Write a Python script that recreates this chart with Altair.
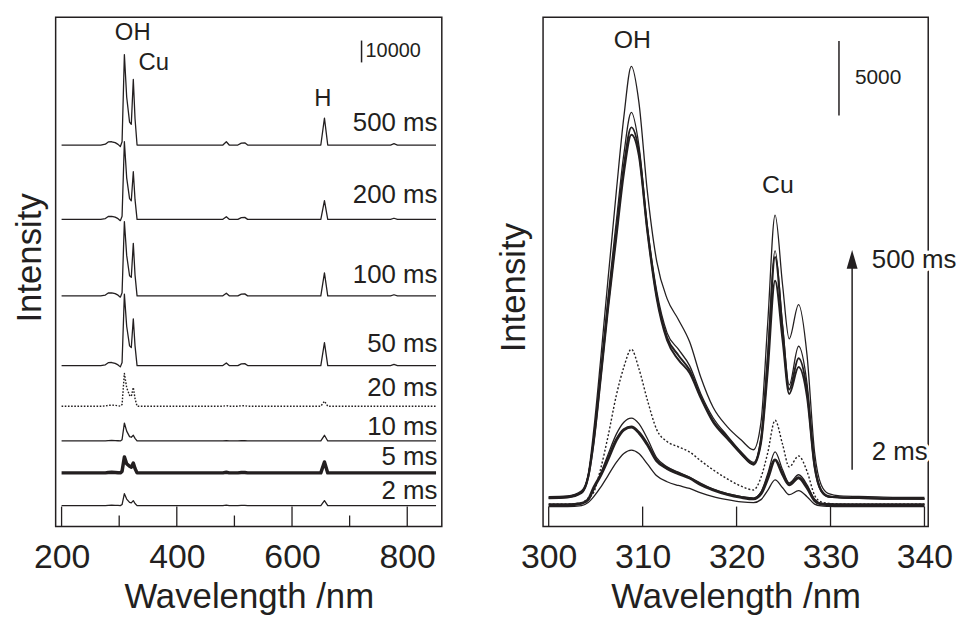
import altair as alt
import pandas as pd

FONT = "Liberation Sans"
INK = "#231f20"

# ---------------- left panel: stacked survey spectra ----------------
L_TRACES = ["500 ms", "200 ms", "100 ms", "50 ms", "20 ms", "10 ms", "5 ms", "2 ms"]
L_OFFSETS = [174500, 140500, 105500, 73600, 55000, 39100, 24500, 9500]
L_WL = [200, 268, 276, 281, 287, 293, 298, 302, 305, 309, 313, 318, 321, 324.5, 327.5, 331,
        480, 486, 491, 506, 512, 518, 523, 650, 656.3, 662, 771, 777, 783, 850]
L_500 = [0, 0, 400, 1400, 1500, 1100, 300, -700, 1500, 41400, 22000, 10500, 9500, 30000, 12000, 0,
         0, 1500, 0, 0, 900, 1000, 0, 0, 12300, 0, 0, 600, 0, 0]
L_200 = [0, 0, 350, 1300, 1400, 1000, 300, -600, 1400, 35500, 19000, 9500, 8500, 21800, 9000, 0,
         0, 1200, 0, 0, 800, 900, 0, 0, 8600, 0, 0, 500, 0, 0]
L_100 = [0, 0, 350, 1300, 1400, 1000, 300, -600, 1400, 34000, 18500, 9200, 8500, 24000, 9500, 0,
         0, 1200, 0, 0, 800, 900, 0, 0, 10500, 0, 0, 500, 0, 0]
L_50 = [0, 0, 350, 1300, 1400, 1000, 300, -600, 1400, 32700, 18000, 9000, 8200, 21400, 9000, 0,
        0, 1200, 0, 0, 800, 900, 0, 0, 10500, 0, 0, 500, 0, 0]
L_20 = [0, 0, 100, 400, 500, 400, 200, 0, 800, 15000, 8500, 5000, 4500, 8600, 3500, 0,
        0, 300, 0, 0, 200, 200, 0, 0, 2300, 0, 0, 0, 0, 0]
L_10 = [0, 0, 0, 200, 250, 200, 100, 0, 600, 8200, 4500, 2000, 1700, 2600, 1200, 0,
        0, 200, 0, 0, 100, 100, 0, 0, 2600, 0, 0, 0, 0, 0]
L_5 = [0, 0, 0, 200, 250, 200, 100, 0, 700, 7300, 4200, 3000, 2600, 4500, 2000, 0,
       0, 300, 0, 0, 200, 200, 0, 0, 5000, 0, 0, 0, 0, 0]
L_2 = [0, 0, 0, 150, 200, 150, 100, 0, 500, 5500, 3000, 1500, 1300, 2300, 1000, 0,
       0, 200, 0, 0, 100, 100, 0, 0, 2300, 0, 0, 0, 0, 0]
L_VALUES = [L_500, L_200, L_100, L_50, L_20, L_10, L_5, L_2]
L_WIDTH = [1.3, 1.3, 1.3, 1.3, 1.4, 1.3, 3.5, 1.3]
L_DASH = [None, None, None, None, [1.6, 1.6], None, None, None]

L_MAJOR = [200, 400, 600, 800]
L_MINOR = [300, 500, 700]
L_LABEL_Y = [184500, 151400, 115000, 83600, 63200, 45500, 31800, 16400]
L_LABEL_X = 852.5
L_PEAKS = [("OH", 323.5, 225900), ("Cu", 360, 211800), ("H", 653.5, 195500)]
L_BAR = (720.7, 212300, 222300, "10000")

# ---------------- right panel: zoom on OH / Cu ----------------
R_TRACES = ["500 ms", "200 ms", "100 ms", "50 ms", "20 ms", "10 ms", "5 ms", "2 ms"]
R_WL = [300, 302, 303.5, 304.2, 304.8, 305.5, 306.3, 307.2, 308.0, 308.8, 309.6, 310.5, 311.5,
        312.6, 313.8, 315.0, 316.2, 317.5, 319.0, 320.5, 321.8, 322.6, 323.3, 324.1, 324.9,
        325.6, 326.6, 327.5, 328.3, 329.0, 329.8, 331, 334, 337, 340]
R_500 = [2000, 2050, 2400, 3500, 6500, 11000, 16500, 22500, 27500, 30900, 28500, 22500, 17800,
         15300, 13900, 12400, 10000, 8000, 6700, 5800, 5150, 7000, 13500, 20900, 16200,
         12600, 14900, 11500, 5000, 2800, 2200, 2050, 2000, 1950, 1950]
R_200 = [1900, 1950, 2300, 3400, 6000, 10200, 15300, 20500, 25000, 27800, 25600, 20200, 15800,
         13000, 11900, 10800, 8900, 7300, 6100, 5000, 4300, 6000, 11500, 18500, 13500,
         9500, 12100, 9600, 4300, 2500, 2050, 1950, 1900, 1900, 1850]
R_100 = [1900, 1950, 2250, 3300, 5800, 9900, 14800, 19800, 24200, 26800, 25200, 20000, 15500,
         12700, 11500, 10500, 8700, 7100, 6000, 4900, 4200, 5800, 11000, 18100, 13200,
         9200, 11300, 9100, 4100, 2400, 2000, 1950, 1900, 1850, 1850]
R_50 = [1950, 2000, 2300, 3300, 5700, 9700, 14500, 19400, 23700, 26300, 24900, 19800, 15300,
        12500, 11200, 10300, 8600, 7000, 5900, 4850, 4150, 5600, 10300, 16500, 12500,
        8900, 10700, 8700, 4000, 2400, 2000, 1950, 1900, 1850, 1850]
R_20 = [1500, 1500, 1600, 1900, 2300, 3800, 6000, 8800, 10700, 11900, 10600, 8500, 6500,
        5700, 5350, 5000, 4400, 3800, 3200, 2700, 2450, 3300, 4900, 7130, 5500,
        4000, 4730, 3700, 2100, 1650, 1550, 1500, 1500, 1500, 1500]
R_10 = [1450, 1450, 1550, 1800, 2500, 3500, 4800, 6200, 7000, 7270, 6900, 5900, 4600,
        4000, 3650, 3300, 2900, 2500, 2200, 2000, 1900, 2300, 3500, 5000, 3800,
        2930, 3470, 2800, 1800, 1550, 1500, 1480, 1450, 1450, 1450]
R_5 = [1450, 1450, 1550, 1800, 2600, 3400, 4500, 5800, 6500, 6670, 6300, 5500, 4400,
       3900, 3550, 3250, 2800, 2450, 2150, 1950, 1850, 2200, 3200, 4470, 3500,
       2800, 3270, 2600, 1750, 1500, 1470, 1450, 1450, 1450, 1450]
R_2 = [1330, 1330, 1400, 1600, 2000, 2600, 3400, 4300, 4900, 5130, 4900, 4200, 3400,
       3000, 2750, 2550, 2250, 2000, 1800, 1650, 1600, 1800, 2400, 3130, 2600,
       2130, 2400, 2000, 1500, 1380, 1350, 1330, 1330, 1330, 1330]
R_VALUES = [R_500, R_200, R_100, R_50, R_20, R_10, R_5, R_2]
R_WIDTH = [1.3, 1.3, 2.0, 2.0, 1.4, 1.3, 3.0, 1.3]
R_DASH = [None, None, None, None, [2, 2], None, None, None]

R_MAJOR = [300, 310, 320, 330, 340]
R_PEAKS = [("OH", 308.9, 32670), ("Cu", 324.4, 22900)]
R_BAR = (330.9, 27600, 32600, "5000")
R_ARROW = (332.3, 3800, 17400, 17900)
R_ARROW_LABELS = [("500 ms", 334.4, 17900), ("2 ms", 334.4, 5000)]

# ---------------- build tables ----------------
rows = []
for name, off, vals in zip(L_TRACES, L_OFFSETS, L_VALUES):
    for w, v in zip(L_WL, vals):
        rows.append({"wl": w, "y": off + v, "trace": name})
left_df = pd.DataFrame(rows)

rows = []
for name, vals in zip(R_TRACES, R_VALUES):
    for w, v in zip(R_WL, vals):
        rows.append({"wl": w, "y": v, "trace": name})
right_df = pd.DataFrame(rows)

L_W, L_H = 389, 513
R_W, R_H = 388, 513

lx = alt.Scale(domain=[189.7, 860], nice=False, zero=False)
ly = alt.Scale(domain=[0, 233000], nice=False, zero=False)
rx = alt.Scale(domain=[299.4, 340.4], nice=False, zero=False)
ry = alt.Scale(domain=[0, 34200], nice=False, zero=False)


def x_axis(values):
    return alt.Axis(values=values, ticks=False, tickSize=0, domain=False, grid=False,
                    labelFontSize=34, labelPadding=14, labelColor=INK, labelFont=FONT,
                    title="Wavelength /nm", titleFontSize=35, titleFontWeight="normal",
                    titleColor=INK, titleFont=FONT, titlePadding=6, format="d")


def y_axis(ty, pad):
    return alt.Axis(labels=False, ticks=False, domain=False, grid=False,
                    title="Intensity", titleFontSize=35, titleFontWeight="normal",
                    titleColor=INK, titleFont=FONT, titlePadding=pad, titleY=ty)


def trace_layers(df, traces, widths, dashes, xs, ys, interp, xaxis, yaxis):
    layers = []
    for name, w, d in zip(traces, widths, dashes):
        kw = dict(color=INK, interpolate=interp, strokeWidth=w, strokeJoin="round")
        if d is not None:
            kw["strokeDash"] = d
        layers.append(alt.Chart(df).transform_filter(alt.datum.trace == name)
                      .mark_line(**kw).encode(
                          x=alt.X("wl:Q", scale=xs, axis=xaxis),
                          y=alt.Y("y:Q", scale=ys, axis=yaxis)))
    return layers


def haloed_text(df, xs, ys, xa, ya, **style):
    """white knock-out behind the label (like the boxed labels of the original), then the label"""
    enc = dict(x=alt.X("wl:Q", scale=xs, axis=xa), y=alt.Y("y:Q", scale=ys, axis=ya), text="t:N")
    halo = alt.Chart(df).mark_text(color="white", stroke="white", strokeWidth=7,
                                   strokeJoin="round", font=FONT, **style).encode(**enc)
    ink = alt.Chart(df).mark_text(color=INK, font=FONT, **style).encode(**enc)
    return [halo, ink]


# left
LXA, LYA = x_axis(L_MAJOR), y_axis(242, 8)
l_lines = trace_layers(left_df, L_TRACES, L_WIDTH, L_DASH, lx, ly, "linear", LXA, LYA)
l_major = alt.Chart(pd.DataFrame({"wl": L_MAJOR})).mark_rule(color=INK, strokeWidth=1.3).encode(
    x=alt.X("wl:Q", scale=lx, axis=LXA), y=alt.value(L_H), y2=alt.value(L_H - 20))
l_minor = alt.Chart(pd.DataFrame({"wl": L_MINOR})).mark_rule(color=INK, strokeWidth=1.3).encode(
    x=alt.X("wl:Q", scale=lx, axis=LXA), y=alt.value(L_H), y2=alt.value(L_H - 11))
l_lab = haloed_text(pd.DataFrame({"t": L_TRACES, "y": L_LABEL_Y, "wl": [L_LABEL_X] * len(L_TRACES)}),
                    lx, ly, LXA, LYA, align="right", baseline="middle", fontSize=26)
l_peak = alt.Chart(pd.DataFrame(L_PEAKS, columns=["t", "wl", "y"])).mark_text(
    align="center", baseline="middle", fontSize=24, font=FONT, color=INK).encode(
    x=alt.X("wl:Q", scale=lx, axis=LXA), y=alt.Y("y:Q", scale=ly, axis=LYA), text="t:N")
l_bar = alt.Chart(pd.DataFrame({"wl": [L_BAR[0]], "y": [L_BAR[1]], "y2": [L_BAR[2]]})).mark_rule(
    color=INK, strokeWidth=1.5).encode(x=alt.X("wl:Q", scale=lx, axis=LXA),
                                       y=alt.Y("y:Q", scale=ly, axis=LYA), y2="y2:Q")
l_bar_t = alt.Chart(pd.DataFrame({"wl": [L_BAR[0] + 7], "y": [(L_BAR[1] + L_BAR[2]) / 2], "t": [L_BAR[3]]})).mark_text(
    align="left", baseline="middle", fontSize=20, font=FONT, color=INK).encode(
    x=alt.X("wl:Q", scale=lx, axis=LXA), y=alt.Y("y:Q", scale=ly, axis=LYA), text="t:N")

left = alt.layer(*l_lines, l_major, l_minor, *l_lab, l_peak, l_bar, l_bar_t).properties(width=L_W, height=L_H)

# right
RXA, RYA = x_axis(R_MAJOR), y_axis(272, 12)
r_lines = trace_layers(right_df, R_TRACES, R_WIDTH, R_DASH, rx, ry, "monotone", RXA, RYA)
r_major = alt.Chart(pd.DataFrame({"wl": R_MAJOR})).mark_rule(color=INK, strokeWidth=1.3).encode(
    x=alt.X("wl:Q", scale=rx, axis=RXA), y=alt.value(R_H), y2=alt.value(R_H - 20))
r_peak = alt.Chart(pd.DataFrame(R_PEAKS, columns=["t", "wl", "y"])).mark_text(
    align="center", baseline="middle", fontSize=25, font=FONT, color=INK).encode(
    x=alt.X("wl:Q", scale=rx, axis=RXA), y=alt.Y("y:Q", scale=ry, axis=RYA), text="t:N")
r_bar = alt.Chart(pd.DataFrame({"wl": [R_BAR[0]], "y": [R_BAR[1]], "y2": [R_BAR[2]]})).mark_rule(
    color=INK, strokeWidth=1.5).encode(x=alt.X("wl:Q", scale=rx, axis=RXA),
                                       y=alt.Y("y:Q", scale=ry, axis=RYA), y2="y2:Q")
r_bar_t = alt.Chart(pd.DataFrame({"wl": [R_BAR[0] + 1.7], "y": [(R_BAR[1] + R_BAR[2]) / 2], "t": [R_BAR[3]]})).mark_text(
    align="left", baseline="middle", fontSize=21, font=FONT, color=INK).encode(
    x=alt.X("wl:Q", scale=rx, axis=RXA), y=alt.Y("y:Q", scale=ry, axis=RYA), text="t:N")
r_arrow = alt.Chart(pd.DataFrame({"wl": [R_ARROW[0]], "y": [R_ARROW[1]], "y2": [R_ARROW[2]]})).mark_rule(
    color=INK, strokeWidth=1.5).encode(x=alt.X("wl:Q", scale=rx, axis=RXA),
                                       y=alt.Y("y:Q", scale=ry, axis=RYA), y2="y2:Q")
r_head = alt.Chart(pd.DataFrame({"wl": [R_ARROW[0]], "y": [R_ARROW[3]]})).mark_point(
    shape="M0,-1L0.55,0.9L-0.55,0.9Z", size=400, filled=True, color=INK, opacity=1).encode(
    x=alt.X("wl:Q", scale=rx, axis=RXA), y=alt.Y("y:Q", scale=ry, axis=RYA))
r_arrow_t = haloed_text(pd.DataFrame(R_ARROW_LABELS, columns=["t", "wl", "y"]),
                        rx, ry, RXA, RYA, align="left", baseline="middle", fontSize=26)

right = alt.layer(*r_lines, r_major, r_peak, r_bar, r_bar_t, r_arrow, r_head, *r_arrow_t).properties(
    width=R_W, height=R_H)

chart = (alt.hconcat(left, right, spacing=53)
         .properties(padding={"left": 4, "top": 6, "right": 0, "bottom": 0})
         .configure(font=FONT)
         .configure_view(stroke=INK, strokeWidth=1.5))

chart.save("out.html", embed_options={"renderer": "svg", "actions": False})
